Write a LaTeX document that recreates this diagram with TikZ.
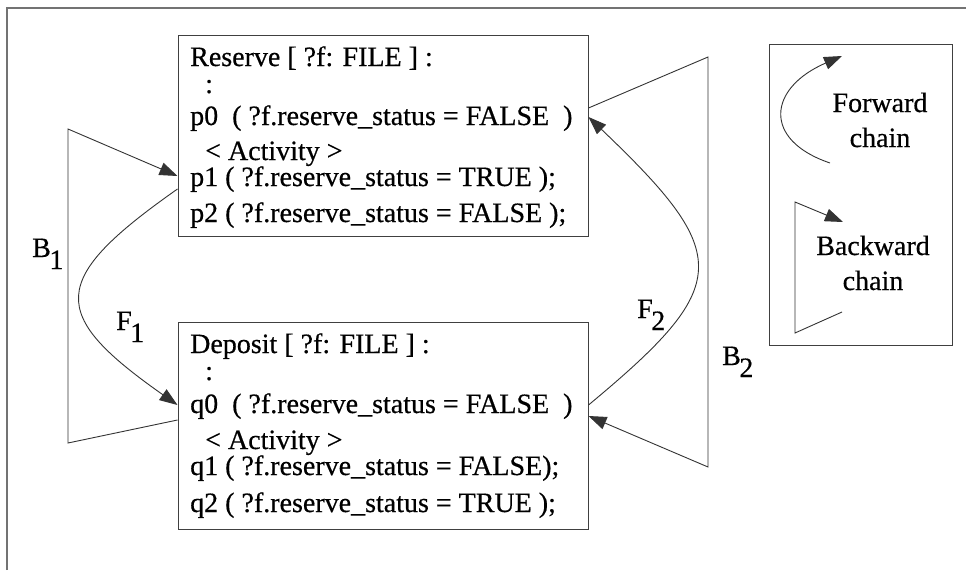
\documentclass[tikz,border=0pt]{standalone}
\usepackage{fontspec}
\setmainfont{Liberation Serif}[FakeBold=0.5]
\usetikzlibrary{arrows.meta}
\newcommand{\sublab}[2]{#1\kern-1.5pt\raisebox{-12pt}{#2}}
\begin{document}
\begin{tikzpicture}[x=1pt,y=-1pt,
  every node/.style={font=\fontsize{28}{35}\selectfont, inner sep=0pt},
  box/.style={draw=black!75, line width=1pt, rectangle},
  line/.style={anchor=base west},
  conn/.style={draw=black!80, line width=0.9pt},
  arr/.style={conn, -{Triangle[length=18pt,width=13pt]}},
  frame/.style={draw=black!55, line width=2pt}]
\useasboundingbox (0,0) rectangle (966,570);
\draw[frame] (7,570) -- (7,8) -- (966,8);

% boxes
\node[box, minimum width=410pt, minimum height=201pt] (res) at (383,135.5) {};
\node[box, minimum width=410pt, minimum height=207pt] (dep) at (383,425.5) {};
\node[box, minimum width=183pt, minimum height=301pt] (leg) at (860.5,194.5) {};

% reserve text
\node[line] (r0) at (190,66) {Reserve [ ?f: FILE ] :};
\node[line] (r1) at (205,93) {:};
\node[line] (r2) at (190,125) {p0\ \ ( ?f.reserve\_status = FALSE\ \ )};
\node[line] (r3) at (205,160) {< Activity >};
\node[line] (r4) at (190,186) {p1 ( ?f.reserve\_status = TRUE );};
\node[line] (r5) at (190,222) {p2 ( ?f.reserve\_status = FALSE );};

% deposit text
\node[line] (d0) at (190,353) {Deposit [ ?f: FILE ] :};
\node[line] (d1) at (205,380) {:};
\node[line] (d2) at (190,413) {q0\ \ ( ?f.reserve\_status = FALSE\ \ )};
\node[line] (d3) at (205,449) {< Activity >};
\node[line] (d4) at (190,475) {q1 ( ?f.reserve\_status = FALSE);};
\node[line] (d5) at (190,512) {q2 ( ?f.reserve\_status = TRUE );};

% labels
\node[anchor=base west] (b1) at (32,257) {\sublab{B}{1}};
\node[anchor=base west] (f1) at (116,330) {\sublab{F}{1}};
\node[anchor=base west] (f2) at (637,318) {\sublab{F}{2}};
\node[anchor=base west] (b2) at (722,365) {\sublab{B}{2}};

% connectors
\draw[arr] (dep.west |- 0,420) -- (68,443) -- (68,129) -- (res.west |- 0,176);
\draw[arr] (res.west |- 0,189) .. controls (48,280) and (48,314) .. (dep.west |- 0,405);
\draw[arr] (dep.east |- 0,405) .. controls (733,285) and (733,255) .. (res.east |- 0,117);
\draw[arr] (res.east |- 0,108) -- (708,57) -- (708,467) -- (dep.east |- 0,416);

% legend
\coordinate (fs) at (830,163);
\coordinate (fe) at (842,56);
\draw[arr] (fs) .. controls (762,140) and (768,88) .. (fe);
\node[align=center, anchor=base] (fwd) at (880,147) {Forward\\chain};
\coordinate (bs) at (842,312);
\coordinate (be) at (843,222);
\draw[arr] (bs) -- (795,333) -- (795,202) -- (be);
\node[align=center, anchor=base] (bwd) at (873,290) {Backward\\chain};
\end{tikzpicture}
\end{document}
